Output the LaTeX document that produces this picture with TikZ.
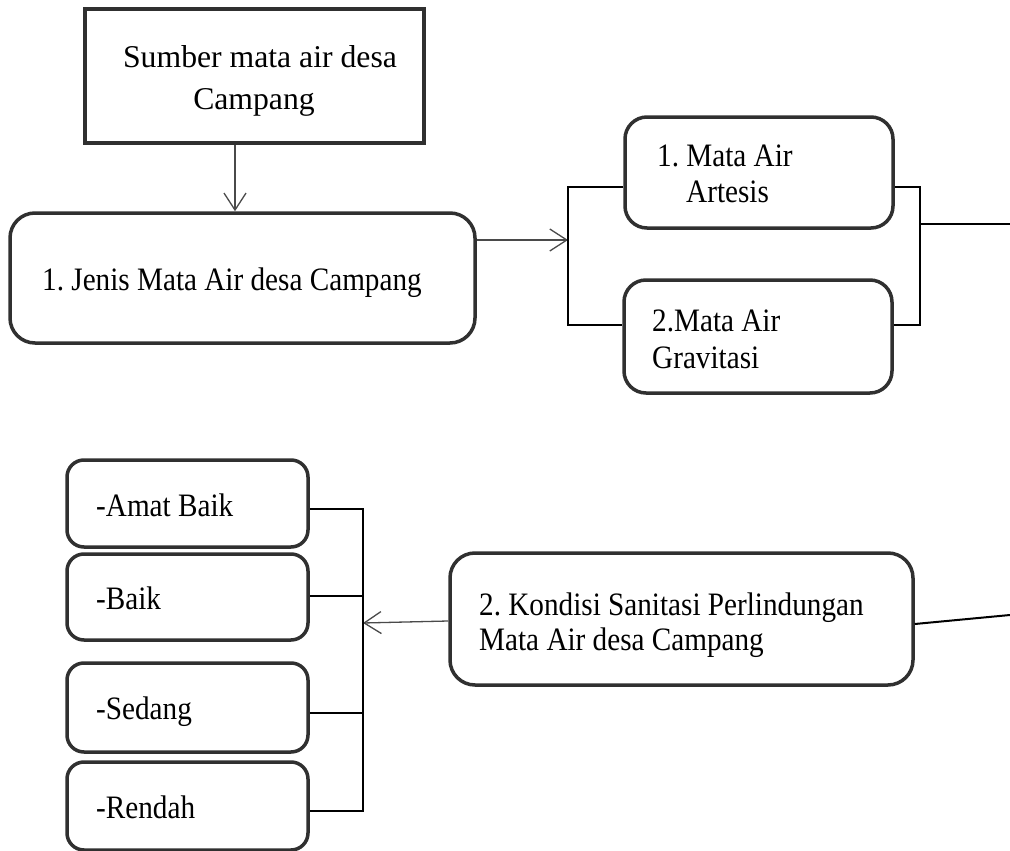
\documentclass[tikz,border=0pt]{standalone}
\usepackage{fontspec}
\usepackage{graphicx}
\setmainfont{Liberation Serif}
\usetikzlibrary{arrows.meta}
\definecolor{boxline}{HTML}{303030}
\definecolor{arrline}{HTML}{4A4A4A}
\newcommand{\tallword}[1]{\scalebox{1}[1.12]{#1}}
\begin{document}
\begin{tikzpicture}[x=1pt,y=-1pt,
  txt/.style={inner sep=0pt,anchor=base west,font=\fontsize{29.2}{36}\selectfont\frenchspacing},
  bigtxt/.style={inner sep=0pt,anchor=base,font=\fontsize{31.7}{40}\selectfont\frenchspacing},
  sqbox/.style={draw=boxline,line width=3.5pt,inner sep=0pt},
  rbox/.style={draw=boxline,line width=3.5pt,rounded corners=#1,inner sep=0pt},
  rbox/.default=22pt,
  arr/.style={draw=arrline,line width=1.3pt,-{Straight Barb[length=17pt,width=22pt,line width=1.3pt]}},
  brk/.style={draw=black,line width=2pt}]
\useasboundingbox (0,0) rectangle (1010,851);
% boxes
\node[sqbox,minimum width=339pt,minimum height=134pt] (top) at (254.5,76) {};
\node[rbox=25pt,minimum width=465pt,minimum height=130pt] (jenis) at (242.5,278) {};
\node[rbox=22pt,minimum width=268pt,minimum height=111pt] (artesis) at (759,172.5) {};
\node[rbox=22pt,minimum width=268pt,minimum height=113pt] (gravitasi) at (758,336.5) {};
\node[rbox=25pt,minimum width=463pt,minimum height=132pt] (kondisi) at (681.5,619) {};
\node[rbox=17pt,minimum width=241pt,minimum height=87pt] (amat) at (187.5,503.5) {};
\node[rbox=17pt,minimum width=241pt,minimum height=86pt] (baik) at (187.5,597) {};
\node[rbox=17pt,minimum width=241pt,minimum height=89pt] (sedang) at (187.5,707.5) {};
\node[rbox=17pt,minimum width=241pt,minimum height=88pt] (rendah) at (187.5,806) {};
% texts
\node[bigtxt] (t1a) at (260,68) {Sumber mata air desa};
\node[bigtxt] (t1b) at (254,110) {Campang};
\node[txt] (t2) at (42,290) {\tallword{1. Jenis Mata Air desa Campang}};
\node[txt] (t3a) at (657,166) {\tallword{1. Mata Air}};
\node[txt] (t3b) at (686,202) {\tallword{Artesis}};
\node[txt] (t4a) at (652,331) {\tallword{2.Mata Air}};
\node[txt] (t4b) at (652,368) {\tallword{Gravitasi}};
\node[txt] (t5a) at (479,615) {\tallword{2. Kondisi Sanitasi Perlindungan}};
\node[txt] (t5b) at (479,650) {\tallword{Mata Air desa Campang}};
\node[txt] (t6) at (96,516) {\tallword{-Amat Baik}};
\node[txt] (t7) at (96,609) {\tallword{-Baik}};
\node[txt] (t8) at (96,719) {\tallword{-Sedang}};
\node[txt] (t9) at (96,818) {\tallword{-Rendah}};
% coordinates
\coordinate (ta) at (235,0);
\coordinate (b1t) at (568,187);
\coordinate (b1m) at (568,240);
\coordinate (b1b) at (568,325);
\coordinate (b2t) at (920,187);
\coordinate (b2m) at (920,224);
\coordinate (b2b) at (920,325);
\coordinate (e1) at (1010,224);
\coordinate (kr) at (913,624);
\coordinate (e2) at (1010,615);
\coordinate (kl) at (450,621);
\coordinate (b3t) at (363,509);
\coordinate (b3a) at (363,596);
\coordinate (b3m) at (363,623);
\coordinate (b3c) at (363,713);
\coordinate (b3b) at (363,811);
% connectors
\draw[arr] (top.south -| ta) -- (jenis.north -| ta);
\draw[arr] (jenis.east |- b1m) -- (b1m);
\draw[brk] (b1t -| artesis.west) -- (b1t) -- (b1b) -- (b1b -| gravitasi.west);
\draw[brk] (b2t -| artesis.east) -- (b2t) -- (b2b) -- (b2b -| gravitasi.east);
\draw[brk] (b2m) -- (e1);
\draw[brk] (kondisi.east |- kr) -- (e2);
\draw[arr] (kondisi.west |- kl) -- (b3m);
\draw[brk] (b3t -| amat.east) -- (b3t) -- (b3b) -- (b3b -| rendah.east);
\draw[brk] (b3a -| baik.east) -- (b3a);
\draw[brk] (b3c -| sedang.east) -- (b3c);
\end{tikzpicture}
\end{document}
